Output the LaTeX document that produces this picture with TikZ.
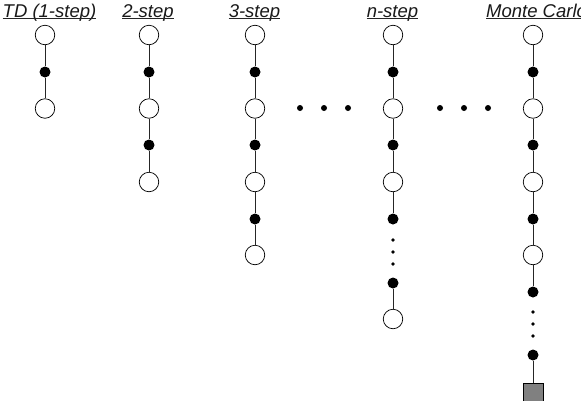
\documentclass[tikz,border=0pt]{standalone}
\usepackage{fontspec}
\setmainfont{Liberation Sans}
\begin{document}
\begin{tikzpicture}[x=1pt,y=-1pt,
 st/.style={circle,draw=black,fill=white,line width=0.7pt,minimum size=19.5pt,inner sep=0pt},
 ac/.style={circle,fill=black,minimum size=11pt,inner sep=0pt},
 vd/.style={circle,fill=black,minimum size=3.6pt,inner sep=0pt},
 hd/.style={circle,fill=black,minimum size=6pt,inner sep=0pt},
 tm/.style={rectangle,draw=black,fill=black!50,minimum size=20pt,inner sep=0pt,line width=0.7pt},
 ln/.style={draw=black!85,line width=0.8pt},
 ul/.style={draw=black!85,line width=0.8pt},
 ttl/.style={anchor=base,inner sep=0pt,text=black!90,font=\itshape\fontsize{18.5}{21}\selectfont}]
\useasboundingbox (0,0) rectangle (581,400);
% titles
\node[ttl] (t1) at (49.5,17) {TD (1-step)};
\node[ttl] (t2) at (148,17) {2-step};
\node[ttl] (t3) at (254.5,17) {3-step};
\node[ttl] (t4) at (392.5,17) {\textit{n}-step};
\node[ttl,anchor=base west] (t5) at (486,17) {Monte Carlo};
\foreach \t in {t1,t2,t3,t4,t5}{
  \draw[ul] ([yshift=-1.8pt]\t.base west) -- ([yshift=-1.8pt]\t.base east);
}
% TD (1-step)
\node[st] (a0) at (45,35) {};
\node[ac] (a1) at (45,72) {};
\node[st] (a2) at (45,108.5) {};
\draw[ln] (a0) -- (a1) -- (a2);
% 2-step
\node[st] (b0) at (149,35) {};
\node[ac] (b1) at (149,72) {};
\node[st] (b2) at (149,108.5) {};
\node[ac] (b3) at (149,145) {};
\node[st] (b4) at (149,182) {};
\draw[ln] (b0) -- (b1) -- (b2) -- (b3) -- (b4);
% 3-step
\node[st] (c0) at (255,35) {};
\node[ac] (c1) at (255,72) {};
\node[st] (c2) at (255,108.5) {};
\node[ac] (c3) at (255,145) {};
\node[st] (c4) at (255,182) {};
\node[ac] (c5) at (255,219) {};
\node[st] (c6) at (255,255) {};
\draw[ln] (c0) -- (c1) -- (c2) -- (c3) -- (c4) -- (c5) -- (c6);
% n-step
\node[st] (d0) at (393,35) {};
\node[ac] (d1) at (393,72) {};
\node[st] (d2) at (393,108.5) {};
\node[ac] (d3) at (393,145) {};
\node[st] (d4) at (393,182) {};
\node[ac] (d5) at (393,219) {};
\node[vd] (dv1) at (393,240) {};
\node[vd] (dv2) at (393,252) {};
\node[vd] (dv3) at (393,264) {};
\node[ac] (d6) at (393,283) {};
\node[st] (d7) at (393,319) {};
\draw[ln] (d0) -- (d1) -- (d2) -- (d3) -- (d4) -- (d5);
\draw[ln] (d6) -- (d7);
% Monte Carlo
\node[st] (e0) at (533,35) {};
\node[ac] (e1) at (533,72) {};
\node[st] (e2) at (533,108.5) {};
\node[ac] (e3) at (533,145) {};
\node[st] (e4) at (533,182) {};
\node[ac] (e5) at (533,219) {};
\node[st] (e6) at (533,255) {};
\node[ac] (e7) at (533,292) {};
\node[vd] (ev1) at (533,312) {};
\node[vd] (ev2) at (533,324) {};
\node[vd] (ev3) at (533,336) {};
\node[ac] (e8) at (533,355) {};
\node[tm] (e9) at (533,393) {};
\draw[ln] (e0) -- (e1) -- (e2) -- (e3) -- (e4) -- (e5) -- (e6) -- (e7);
\draw[ln] (e8) -- (e9);
% horizontal ellipses
\node[hd] (h1) at (300,108) {};
\node[hd] (h2) at (324,108) {};
\node[hd] (h3) at (348,108) {};
\node[hd] (h4) at (440,108) {};
\node[hd] (h5) at (464,108) {};
\node[hd] (h6) at (488,108) {};
\end{tikzpicture}
\end{document}
